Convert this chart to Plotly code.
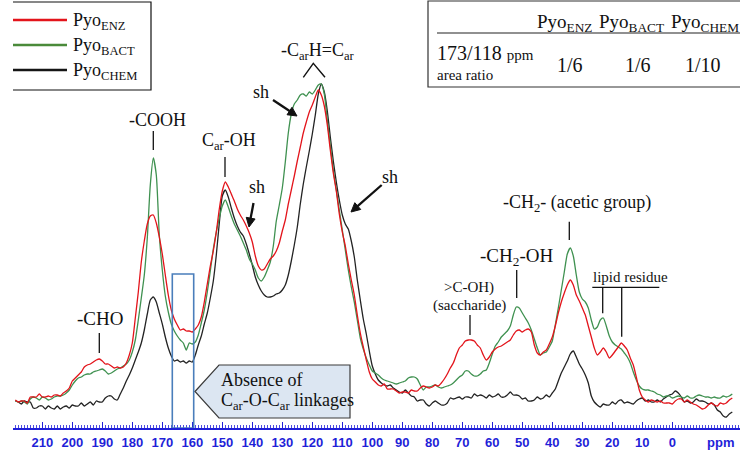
import math
import plotly.graph_objects as go

# ---------------- data ----------------
# chemical shift grid, ppm (219 down to -20, 1 ppm steps)
PPM = list(range(219, -21, -1))

# intensities (arbitrary units)
ENZ = [28, 26, 27, 27, 25, 31, 31, 31, 34, 31, 31, 32, 31, 33, 33, 32, 35, 37, 40, 47,
       50, 53, 56, 61, 63, 64, 66, 68, 69, 67, 64, 64, 62, 60, 61, 60, 61, 65, 73, 85,
       110, 136, 166, 187, 204, 212, 213, 205, 191, 174, 153, 133, 118, 109, 103, 98, 99, 97, 97, 96,
       99, 103, 111, 126, 144, 162, 177, 196, 219, 237, 246, 241, 234, 227, 219, 213, 208, 202, 195, 186,
       172, 162, 158, 159, 164, 169, 172, 177, 185, 197, 208, 224, 238, 252, 267, 281, 295, 306, 316, 323,
       331, 338, 333, 322, 303, 278, 255, 237, 214, 196, 182, 164, 148, 133, 113, 95, 81, 68, 56, 49,
       46, 43, 42, 44, 39, 39, 39, 37, 35, 36, 36, 35, 38, 37, 37, 40, 42, 41, 40, 41,
       43, 42, 45, 49, 54, 60, 65, 73, 80, 83, 87, 88, 88, 87, 83, 80, 73, 68, 71, 76,
       79, 81, 82, 84, 86, 88, 93, 97, 98, 96, 98, 99, 96, 83, 75, 73, 76, 78, 84, 91,
       102, 115, 126, 135, 143, 148, 143, 133, 127, 120, 113, 102, 91, 80, 73, 76, 80, 76, 70, 73,
       77, 81, 85, 82, 78, 70, 63, 51, 38, 31, 28, 26, 28, 27, 26, 27, 25, 25, 25, 24,
       27, 29, 29, 26, 28, 26, 24, 23, 21, 19, 20, 23, 25, 23, 22, 25, 24, 25, 28, 30]

BACT = [27, 26, 27, 26, 24, 29, 31, 30, 28, 31, 30, 28, 29, 31, 32, 32, 33, 35, 38, 43,
        47, 50, 51, 53, 54, 54, 56, 57, 58, 59, 57, 54, 55, 57, 59, 60, 62, 64, 68, 76,
        88, 108, 130, 153, 190, 243, 270, 253, 193, 158, 132, 116, 104, 97, 92, 88, 85, 78, 85, 84,
        86, 93, 105, 118, 136, 157, 179, 196, 210, 222, 228, 221, 212, 204, 198, 192, 185, 178, 169, 164,
        158, 150, 147, 151, 158, 166, 182, 207, 223, 240, 266, 295, 314, 324, 328, 333, 334, 332, 336, 334,
        338, 343, 344, 334, 308, 283, 258, 238, 218, 198, 178, 158, 141, 126, 108, 90, 79, 70, 63, 57,
        55, 53, 50, 48, 47, 46, 45, 44, 45, 46, 47, 50, 51, 51, 49, 43, 38, 41, 41, 42,
        43, 41, 40, 41, 42, 43, 45, 48, 51, 53, 57, 57, 54, 52, 52, 54, 57, 58, 65, 74,
        82, 86, 91, 94, 97, 102, 113, 121, 120, 115, 110, 105, 98, 89, 80, 73, 75, 76, 81, 87,
        103, 120, 138, 156, 174, 180, 172, 153, 136, 129, 126, 120, 108, 99, 101, 108, 110, 102, 92, 86,
        83, 81, 79, 75, 71, 65, 56, 48, 42, 39, 38, 38, 37, 36, 34, 33, 31, 32, 32, 30,
        31, 32, 31, 30, 32, 30, 30, 32, 33, 32, 31, 31, 30, 31, 30, 30, 32, 31, 32, 34]

CHEM = [27, 26, 24, 27, 26, 26, 20, 20, 22, 22, 19, 22, 20, 19, 22, 19, 21, 22, 20, 23,
        22, 22, 25, 22, 24, 26, 23, 27, 26, 26, 30, 32, 32, 29, 28, 34, 40, 47, 53, 60,
        68, 76, 85, 98, 114, 128, 131, 126, 115, 104, 91, 80, 72, 67, 68, 66, 67, 65, 67, 66,
        73, 83, 92, 104, 115, 130, 147, 173, 205, 232, 238, 231, 220, 210, 202, 196, 192, 184, 174, 163,
        151, 143, 137, 133, 131, 131, 132, 134, 135, 138, 143, 153, 167, 183, 201, 224, 244, 261, 277, 294,
        313, 334, 344, 336, 317, 291, 267, 246, 228, 213, 204, 199, 187, 171, 148, 128, 109, 94, 77, 62,
        54, 48, 45, 43, 42, 43, 40, 38, 36, 35, 38, 35, 32, 31, 27, 28, 28, 24, 22, 25,
        27, 25, 23, 23, 25, 30, 29, 30, 31, 29, 31, 31, 30, 34, 32, 33, 32, 30, 33, 31,
        32, 34, 31, 31, 33, 36, 33, 33, 32, 29, 30, 27, 27, 28, 31, 29, 30, 33, 31, 35,
        39, 47, 55, 61, 67, 74, 77, 71, 64, 59, 53, 45, 32, 26, 23, 21, 24, 23, 23, 26,
        24, 27, 28, 25, 26, 25, 24, 27, 29, 30, 27, 28, 26, 26, 28, 26, 29, 31, 33, 34,
        37, 35, 31, 26, 27, 25, 26, 29, 27, 27, 26, 24, 25, 23, 18, 16, 12, 11, 14, 16]

SERIES = [("Pyo<sub>CHEM</sub>", CHEM, "#232323"),
          ("Pyo<sub>BACT</sub>", BACT, "#3f9150"),
          ("Pyo<sub>ENZ</sub>", ENZ, "#e3141b")]

TICK_VALUES = [210, 200, 190, 180, 170, 160, 150, 140, 130, 120, 110, 100,
               90, 80, 70, 60, 50, 40, 30, 20, 10, 0]
TICK_LABELS = ["210", "200", "190", "180", "170", "160", "150", "140", "130", "120", "110", "100",
               "90", "80", "70", "60", "50", "40", "30", "20", "10", "0"]

TABLE_HEAD = ["Pyo<sub>ENZ</sub>", "Pyo<sub>BACT</sub>", "Pyo<sub>CHEM</sub>"]
TABLE_VALUES = ["1/6", "1/6", "1/10"]

assert len(PPM) == len(ENZ) == len(BACT) == len(CHEM)

# ---------------- figure ----------------
W, H = 749, 452
ML, MR, MT, MB = 13, 9, 0, 24
PLOT_H = H - MT - MB


def X(px):  # page pixel -> ppm (for decorations)
    return (672.3 - px) / 3.0


def Y(py):  # page pixel -> intensity (for decorations)
    return 428.0 - py


SERIF = "Liberation Serif, Times New Roman, serif"
NARROW = "Liberation Sans Narrow, Arial Narrow, Liberation Sans, sans-serif"
BLUE = "#1f1fd8"
INK = "#111111"

fig = go.Figure()
for name, vals, col in SERIES:
    fig.add_trace(go.Scatter(x=PPM, y=vals, mode="lines", name=name,
                             line=dict(color=col, width=1.3, shape="spline", smoothing=0.6),
                             showlegend=False, hoverinfo="skip"))

shapes = []


def line(p0, p1, color=INK, width=1.3):
    shapes.append(dict(type="line", xref="x", yref="y", x0=X(p0[0]), y0=Y(p0[1]),
                       x1=X(p1[0]), y1=Y(p1[1]), line=dict(color=color, width=width)))


def path(points, close=False, fill=None, color=INK, width=1.3):
    d = "M " + " L ".join(f"{X(a):.3f},{Y(b):.3f}" for a, b in points)
    if close:
        d += " Z"
    s = dict(type="path", xref="x", yref="y", path=d, line=dict(color=color, width=width))
    if fill:
        s["fillcolor"] = fill
    shapes.append(s)


def arrow(tail, tip, head=9.0, half=4.5):
    dx, dy = tip[0] - tail[0], tip[1] - tail[1]
    n = math.hypot(dx, dy)
    ux, uy = dx / n, dy / n
    bx, by = tip[0] - ux * head, tip[1] - uy * head
    line(tail, (bx + ux * 1.0, by + uy * 1.0), INK, 2.3)
    path([tip, (bx - uy * half, by + ux * half), (bx + uy * half, by - ux * half)],
         close=True, fill=INK, color=INK, width=1)


# blue highlight box
shapes.append(dict(type="rect", xref="x", yref="y", x0=X(172.3), x1=X(193.7), y0=Y(428), y1=Y(274),
                   line=dict(color="#4a7ebb", width=1.6)))
# callout
path([(195, 391.5), (219, 365), (350, 365), (350, 418), (219, 418)], close=True,
     fill="#dce6f2", color="#3a3a3a", width=1.2)
# legend box & lines
shapes.append(dict(type="rect", xref="x", yref="y", x0=X(2), x1=X(151), y0=Y(90), y1=Y(2),
                   line=dict(color=INK, width=1.2), fillcolor="white"))
line((12, 20), (67, 20), "#e3141b", 2.4)
line((12, 45), (67, 45), "#4a8a3a", 2.4)
line((12, 70), (67, 70), "#151515", 2.4)
# table box
shapes.append(dict(type="rect", xref="x", yref="y", x0=X(428), x1=X(745), y0=Y(87), y1=Y(1),
                   line=dict(color="#333333", width=1.2), fillcolor="white"))
line((437, 33), (740, 33), "#222222", 1.2)
# label ticks
line((153.3, 131), (153.3, 150))
line((225, 157), (225, 177))
line((99.3, 333), (99.3, 353))
line((569.3, 221.7), (569.3, 240))
line((516.7, 270), (516.7, 298))
line((470, 315), (470, 335))
line((592.3, 287.3), (659.3, 287.3))
line((602.7, 287.3), (602.7, 313.3))
line((621.7, 287.3), (621.7, 336.7))
# caret above the aromatic peak
path([(303.3, 77.3), (313.3, 63.3), (325, 77.3)], width=1.4)
# shoulder arrows
arrow((273, 100), (297, 116))
arrow((253.5, 203), (249, 227))
arrow((381.7, 185), (351, 212))

ann = []


def text(t, px, py, size=18, anchor="center", color=INK, family=SERIF, weight=None,
         paper_y=False):
    f = dict(family=family, size=size, color=color)
    if weight:
        f["weight"] = weight
    a = dict(text=t, x=X(px), xref="x", showarrow=False,
             xanchor=anchor, yanchor="middle", font=f)
    if paper_y:
        a.update(yref="paper", y=(428.0 - py) / PLOT_H)
    else:
        a.update(yref="y", y=Y(py))
    ann.append(a)


text("-COOH", 157.5, 120)
text("C<sub>ar</sub>-OH", 229, 141)
text("sh", 260.5, 92)
text("sh", 256.7, 187)
text("sh", 390, 177)
text("-C<sub>ar</sub>H=C<sub>ar</sub>", 317.5, 51)
text("-CHO", 100.3, 318, size=19)
text("-CH<sub>2</sub>- (acetic group)", 576.7, 203)
text("-CH<sub>2</sub>-OH", 516.7, 257, size=19)
text("&gt;C-OH)", 469, 287, size=15)
text("(saccharide)", 469, 305, size=15)
text("lipid residue", 630, 277, size=15)
text("Absence of", 219, 380, anchor="left")
text("C<sub>ar</sub>-O-C<sub>ar</sub> linkages", 219, 401, anchor="left")

# legend texts
for (name, _, _), py in zip(SERIES[::-1], [21, 46, 71]):
    text(name, 71, py, size=18, anchor="left")

# table texts
for head, val, cx, vx in zip(TABLE_HEAD, TABLE_VALUES, [564, 631, 705], [570, 638, 703]):
    text(head, cx, 23, size=19)
    text(val, vx, 65, size=20)
text("173/118 <span style='font-size:15px'>ppm</span>", 435, 53, size=20, anchor="left")
text("area ratio", 435, 75, size=15, anchor="left")

# axis unit label (below the ruler)
text("ppm", 720, 442, size=13, color=BLUE, family=NARROW, weight="bold", paper_y=True)

fig.update_layout(
    width=W, height=H, margin=dict(l=ML, r=MR, t=MT, b=MB, pad=0),
    paper_bgcolor="white", plot_bgcolor="white",
    shapes=shapes, annotations=ann, showlegend=False,
    xaxis=dict(range=[X(ML), X(W - MR)], showgrid=False, zeroline=False,
               showline=True, linecolor=BLUE, linewidth=1.5,
               ticks="inside", ticklen=6, tickwidth=1, tickcolor=BLUE,
               tickmode="array", tickvals=TICK_VALUES, ticktext=TICK_LABELS,
               ticklabelstandoff=2,
               tickfont=dict(family=NARROW, size=13, color=BLUE, weight="bold"),
               minor=dict(tickmode="linear", tick0=0, dtick=1, ticks="inside", ticklen=3,
                          tickcolor=BLUE, tickwidth=0.8, showgrid=False)),
    yaxis=dict(range=[0, 428], visible=False, fixedrange=True),
)

fig.write_html("out.html", config={"displayModeBar": False, "staticPlot": True},
               post_script="document.body.style.margin='0';document.body.style.overflow='hidden';")
